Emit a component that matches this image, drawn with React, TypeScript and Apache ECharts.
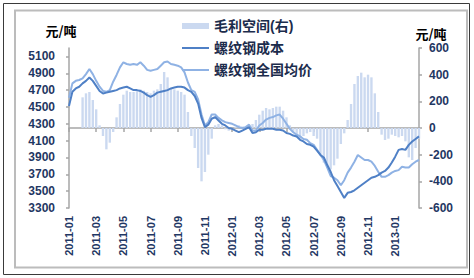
import React, { useEffect, useRef } from "react";
import * as echarts from "echarts";

const months = [
  "2011-01", "2011-02", "2011-03", "2011-04", "2011-05", "2011-06", "2011-07", "2011-08", "2011-09", "2011-10", "2011-11", "2011-12",
  "2012-01", "2012-02", "2012-03", "2012-04", "2012-05", "2012-06", "2012-07", "2012-08", "2012-09", "2012-10", "2012-11", "2012-12",
  "2013-01", "2013-02",
];
const weekDays = ["03", "10", "17", "24"];
const categories = months.flatMap((m) => weekDays.map((d) => `${m}-${d}`));

const priceValues = [
  4610, 4780, 4810, 4820, 4840, 4890, 4950, 4890, 4810, 4740,
  4690, 4680, 4700, 4800, 4880, 4970, 5030, 5010, 5000, 5010,
  5000, 5030, 4990, 4940, 4930, 4940, 4950, 4990, 5030, 5040,
  5010, 5000, 4990, 4970, 4910, 4790, 4700, 4680, 4590, 4410,
  4280, 4320, 4410, 4410, 4370, 4340, 4320, 4310, 4300, 4280,
  4260, 4250, 4260, 4290, 4220, 4220, 4280, 4310, 4350, 4370,
  4380, 4400, 4410, 4360, 4300, 4240, 4200, 4170, 4150, 4120,
  4110, 4070, 4050, 3990, 3930, 3870, 3780, 3680, 3660, 3630,
  3570, 3630, 3720, 3780, 3850, 3930, 3900, 3870, 3870, 3850,
  3800, 3730, 3670, 3670, 3690, 3720, 3740, 3750, 3790, 3780,
  3780, 3820, 3850, 3870,
];

const costValues = [
  4510, 4680, 4720, 4740, 4780, 4810, 4850, 4810, 4750, 4690,
  4660, 4670, 4680, 4690, 4700, 4720, 4730, 4740, 4720, 4700,
  4700, 4690, 4670, 4640, 4620, 4640, 4670, 4680, 4690, 4700,
  4720, 4730, 4740, 4740, 4730, 4700, 4680, 4630, 4540, 4370,
  4260, 4290, 4360, 4380, 4340, 4300, 4280, 4250, 4240, 4220,
  4200, 4220, 4240, 4260, 4190, 4200, 4230, 4230, 4240, 4240,
  4240, 4230, 4230, 4220, 4190, 4180, 4160, 4150, 4110, 4090,
  4060, 4050, 4030, 3980, 3930, 3900, 3810, 3730, 3630, 3560,
  3490, 3420, 3480, 3490, 3510, 3540, 3570, 3600, 3630, 3660,
  3670, 3690, 3720, 3740, 3780, 3840, 3910, 3990, 4000, 3990,
  4050, 4090, 4120, 4150,
];

const marginValues = [
  null, null, null, null, 230, 260, 270, 210, 140, 20,
  -60, -160, -110, -30, 80, 180, 250, 280, 270, 270,
  280, 290, 280, 270, 260, 280, 290, 330, 420, 380,
  300, 290, 280, 270, 250, 120, -60, -150, -300, -400,
  -330, -200, -80, 20, 30, 20, -10, -20, -10, 10,
  20, 10, -10, 10, 30, 60, 100, 130, 150, 140,
  150, 160, 160, 130, 80, 20, -30, -60, -80, -60,
  -40, -30, -60, -80, -200, -260, -300, -310, -280, -230,
  -120, -40, 60, 180, 330, 390, 415, 380, 400, 380,
  260, 120, -50, -90, -80, -50, -60, -70, -60, -100,
  -220, -240, -150, -80,
];

const leftTicks = [3300, 3500, 3700, 3900, 4100, 4300, 4500, 4700, 4900, 5100];
const rightTicks = [-600, -400, -200, 0, 200, 400, 600];

const seriesNames = ["毛利空间(右)", "螺纹钢成本", "螺纹钢全国均价"];
const unitText = "元/吨";

const FONT = '"Liberation Sans", "Noto Sans CJK SC", sans-serif';
const AXIS_GRAY = "#a6a6a6";
const LABEL_NAVY = "#1f3763";
const BAR_COLOR = "#cbd9f0";
const COST_COLOR = "#4f80c6";
const PRICE_COLOR = "#8fb2e4";

export default function App() {
  const ref = useRef<HTMLDivElement>(null);

  useEffect(() => {
    if (!ref.current) return;
    const chart = echarts.init(ref.current, null, { renderer: "svg" });
    const showEvery8 = (i: number) => i % 8 === 0;
    chart.setOption({
      animation: false,
      backgroundColor: "#ffffff",
      textStyle: { fontFamily: FONT },
      grid: { left: 69, right: 55, top: 48, bottom: 70 },
      legend: {
        orient: "vertical",
        left: 176,
        top: 14,
        itemWidth: 27,
        itemHeight: 6,
        itemGap: 8,
        selectedMode: false,
        textStyle: { fontSize: 14, fontWeight: "bold", color: "#1c2c4c", fontFamily: FONT },
        data: [
          { name: seriesNames[0], icon: "rect", itemStyle: { color: BAR_COLOR } },
          {
            name: seriesNames[1],
            itemStyle: { opacity: 0 },
            lineStyle: { color: COST_COLOR, width: 2, opacity: 1 },
          },
          {
            name: seriesNames[2],
            itemStyle: { opacity: 0 },
            lineStyle: { color: PRICE_COLOR, width: 2, opacity: 1 },
          },
        ],
      },
      graphic: [
        {
          type: "rect",
          z: -10,
          shape: { x: 3.5, y: 3.5, width: 466, height: 271 },
          style: { fill: "none", stroke: "#3a3a3a", lineWidth: 1 },
        },
        {
          type: "rect",
          z: -10,
          shape: { x: 15, y: 10.5, width: 452, height: 257 },
          style: { fill: "none", stroke: "#bcbcbc", lineWidth: 2 },
        },
        {
          type: "text",
          x: 61,
          y: 30,
          style: {
            text: unitText,
            font: 'bold 13px "Noto Sans CJK SC", sans-serif',
            fill: "#000000",
            align: "center",
            verticalAlign: "middle",
          },
        },
        {
          type: "text",
          x: 431,
          y: 33,
          style: {
            text: unitText,
            font: 'bold 13px "Noto Sans CJK SC", sans-serif',
            fill: "#000000",
            align: "center",
            verticalAlign: "middle",
          },
        },
      ],
      xAxis: {
        type: "category",
        data: categories,
        boundaryGap: false,
        axisLine: { show: true, lineStyle: { color: AXIS_GRAY, width: 1.5 } },
        axisTick: { show: true, interval: showEvery8, length: 4, lineStyle: { color: AXIS_GRAY, width: 1.5 } },
        axisLabel: {
          interval: showEvery8,
          rotate: 90,
          margin: 8,
          fontSize: 11,
          fontWeight: "bold",
          color: LABEL_NAVY,
          fontFamily: FONT,
          formatter: (v: string) => v.slice(0, 7),
        },
        splitLine: { show: false },
      },
      yAxis: [
        {
          type: "value",
          position: "left",
          min: 3300,
          max: 5200,
          interval: 200,
          axisLine: { show: true, lineStyle: { color: AXIS_GRAY, width: 1.5 } },
          axisTick: { show: true, length: 3, customValues: leftTicks, lineStyle: { color: AXIS_GRAY, width: 1.5 } },
          axisLabel: {
            customValues: leftTicks,
            margin: 14,
            fontSize: 12,
            fontWeight: "bold",
            color: LABEL_NAVY,
            fontFamily: FONT,
            formatter: (v: number) => (v > 5100 ? "" : String(v)),
          },
          splitLine: { show: false },
        },
        {
          type: "value",
          position: "right",
          min: -600,
          max: 600,
          interval: 200,
          axisLine: { show: true, lineStyle: { color: AXIS_GRAY, width: 1.5 } },
          axisTick: { show: true, length: 3, customValues: rightTicks, lineStyle: { color: AXIS_GRAY, width: 1.5 } },
          axisLabel: {
            customValues: rightTicks,
            margin: 10,
            fontSize: 12,
            fontWeight: "bold",
            color: LABEL_NAVY,
            fontFamily: FONT,
          },
          splitLine: { show: false },
        },
      ],
      series: [
        {
          name: seriesNames[0],
          type: "bar",
          yAxisIndex: 1,
          data: marginValues,
          barCategoryGap: "30%",
          itemStyle: { color: BAR_COLOR },
          emphasis: { disabled: true },
          z: 1,
        },
        {
          name: seriesNames[1],
          type: "line",
          yAxisIndex: 0,
          data: costValues,
          symbol: "none",
          showSymbol: false,
          lineStyle: { color: COST_COLOR, width: 2 },
          itemStyle: { color: COST_COLOR },
          emphasis: { disabled: true },
          z: 3,
        },
        {
          name: seriesNames[2],
          type: "line",
          yAxisIndex: 0,
          data: priceValues,
          symbol: "none",
          showSymbol: false,
          lineStyle: { color: PRICE_COLOR, width: 2 },
          itemStyle: { color: PRICE_COLOR },
          emphasis: { disabled: true },
          z: 2,
        },
      ],
    });
    return () => chart.dispose();
  }, []);

  return (
    <div
      ref={ref}
      style={{ position: "fixed", left: 0, top: 0, width: 474, height: 278, background: "#ffffff" }}
    />
  );
}
